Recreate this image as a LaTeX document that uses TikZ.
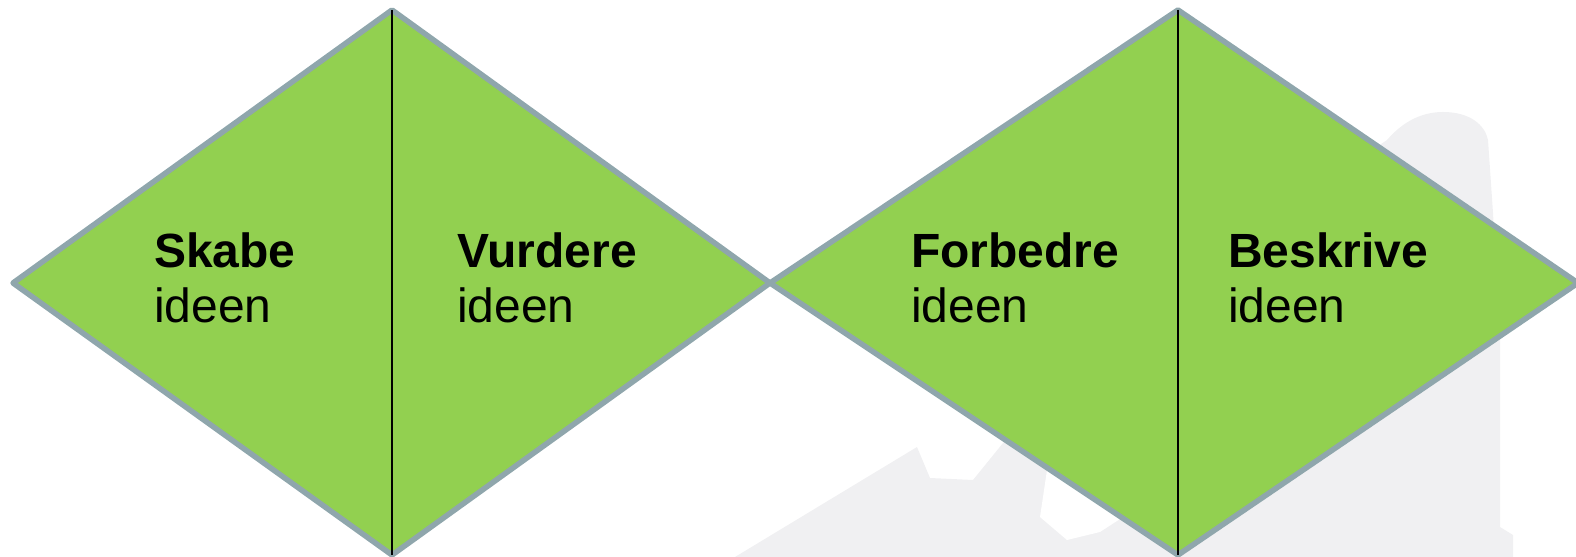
\documentclass[tikz,border=0pt]{standalone}
\usepackage{fontspec}
\setmainfont{Liberation Sans}
\definecolor{leafgreen}{RGB}{146,208,80}
\definecolor{edgegrey}{RGB}{143,166,172}
\definecolor{bggrey}{RGB}{240,240,242}
\tikzset{
  card/.style={fill=leafgreen, draw=edgegrey, line width=5.5bp, line join=round},
  divider/.style={draw=black, line width=2bp},
  headtext/.style={anchor=base west, inner sep=0pt, font=\fontsize{48bp}{55bp}\selectfont\bfseries},
  subtext/.style={anchor=base west, inner sep=0pt, font=\fontsize{48bp}{55bp}\selectfont},
}
\begin{document}
\begin{tikzpicture}[x=1bp,y=1bp]
\useasboundingbox (0,0) rectangle (1576,557);
% faint background figure
\fill[bggrey] (735,0) -- (917,110) -- (930,79) -- (973,77) -- (1003,114)
  -- (1178,277) -- (1387,417)
  .. controls (1405,438) and (1425,445) .. (1443,445)
  .. controls (1470,445) and (1485,432) .. (1488,417)
  -- (1493,344) -- (1500,217) -- (1500,30) -- (1513,22) -- (1513,0) -- cycle;
\fill[white] (1050,107) -- (1040,40) -- (1067,17) -- (1100,25) -- (1120,38) -- (1130,77) -- cycle;
% diamonds
\coordinate (aL) at (13,274);
\coordinate (aT) at (392,547);
\coordinate (aR) at (770,274);
\coordinate (aB) at (392,2);
\coordinate (bT) at (1178,547);
\coordinate (bR) at (1578,274);
\coordinate (bB) at (1178,2);
\draw[card] (aL) -- (aT) -- (aR) -- (aB) -- cycle;
\draw[card] (aR) -- (bT) -- (bR) -- (bB) -- cycle;
\draw[divider] (aT) -- (aB);
\draw[divider] (bT) -- (bB);
% labels
\node[headtext] (skabe) at (154,289) {Skabe};
\node[subtext] (skabei) at (154,234) {ideen};
\node[headtext] (vurdere) at (457,289) {Vurdere};
\node[subtext] (vurderei) at (457,234) {ideen};
\node[headtext] (forbedre) at (911,289) {Forbedre};
\node[subtext] (forbedrei) at (911,234) {ideen};
\node[headtext] (beskrive) at (1228,289) {Beskrive};
\node[subtext] (beskrivei) at (1228,234) {ideen};
\end{tikzpicture}
\end{document}
